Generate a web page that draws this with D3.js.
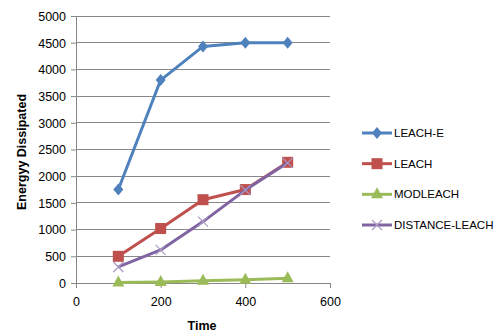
<!DOCTYPE html>
<html><head><meta charset="utf-8">
<script src="https://cdn.jsdelivr.net/npm/d3@7"></script>
<style>body{margin:0;background:#fff}svg{display:block}text{font-family:"Liberation Sans",Arial,sans-serif;fill:#000}</style>
</head><body><svg id="c" width="498" height="336"></svg>
<script>
const times = [100, 200, 300, 400, 500];
const leachE = [1750, 3800, 4430, 4500, 4500];
const leach = [500, 1020, 1560, 1750, 2260];
const modleach = [10, 20, 40, 60, 90];
const distanceLeach = [300, 620, 1150, 1740, 2250];
const seriesNames = ["LEACH-E", "LEACH", "MODLEACH", "DISTANCE-LEACH"];
const xTicks = [0, 200, 400, 600];
const yTicks = [0, 500, 1000, 1500, 2000, 2500, 3000, 3500, 4000, 4500, 5000];

const series = [
  {name: seriesNames[0], values: leachE, color: "#4F81BD", marker: "diamond"},
  {name: seriesNames[1], values: leach, color: "#C0504D", marker: "square"},
  {name: seriesNames[2], values: modleach, color: "#9BBB59", marker: "triangle"},
  {name: seriesNames[3], values: distanceLeach, color: "#8064A2", marker: "x"}
];

const svg = d3.select("#c");
const x = d3.scaleLinear().domain([0, 600]).range([76, 330]);
const y = d3.scaleLinear().domain([0, 5000]).range([283, 16]);

// gridlines
svg.append("g").selectAll("line").data(yTicks.filter(d => d > 0)).join("line")
  .attr("x1", 76).attr("x2", 330).attr("y1", d => y(d)).attr("y2", d => y(d))
  .attr("stroke", "#888").attr("stroke-width", 1).attr("shape-rendering", "crispEdges");

const yAxis = svg.append("g").attr("transform", "translate(76,0)")
  .call(d3.axisLeft(y).tickValues(yTicks).tickFormat(d3.format("d")).tickSize(5).tickPadding(5));
const xAxis = svg.append("g").attr("transform", "translate(0,283)")
  .call(d3.axisBottom(x).tickValues(xTicks).tickFormat(d3.format("d")).tickSize(5).tickPadding(9));
[yAxis, xAxis].forEach(a => {
  a.select(".domain").attr("stroke", "#888");
  a.selectAll(".tick line").attr("stroke", "#888");
  a.selectAll("text").attr("font-size", "12.5px").attr("fill", "#000")
    .style("font-family", '"Liberation Sans",Arial,sans-serif');
});
yAxis.selectAll("text").attr("dy", "0.35em");

function drawMarker(g, type, color, cx, cy) {
  if (type === "diamond") {
    g.append("path").attr("d", `M${cx},${cy-6}L${cx+5},${cy}L${cx},${cy+6}L${cx-5},${cy}Z`).attr("fill", color);
  } else if (type === "square") {
    g.append("rect").attr("x", cx-5.5).attr("y", cy-5.5).attr("width", 11).attr("height", 11).attr("fill", color);
  } else if (type === "triangle") {
    g.append("path").attr("d", `M${cx},${cy-7}L${cx+6},${cy+4}L${cx-6},${cy+4}Z`).attr("fill", color);
  } else {
    g.append("path").attr("d", `M${cx-5},${cy-5}L${cx+5},${cy+5}M${cx+5},${cy-5}L${cx-5},${cy+5}`)
      .attr("stroke", "#A99BC6").attr("stroke-width", 1.2).attr("fill", "none");
  }
}

const line = d3.line().x((d, i) => x(times[i])).y(d => y(d));
series.forEach(s => {
  const g = svg.append("g");
  g.append("path").attr("d", line(s.values)).attr("fill", "none")
    .attr("stroke", s.color).attr("stroke-width", 3).attr("stroke-linejoin", "round");
  s.values.forEach((v, i) => drawMarker(g, s.marker, s.color, x(times[i]), y(v)));
});

// legend
const ly = d3.scalePoint().domain(seriesNames).range([133, 225]);
series.forEach(s => {
  const g = svg.append("g");
  const yy = ly(s.name);
  g.append("line").attr("x1", 362).attr("x2", 392).attr("y1", yy).attr("y2", yy)
    .attr("stroke", s.color).attr("stroke-width", 3);
  drawMarker(g, s.marker, s.color, 377, yy);
  g.append("text").attr("x", 394).attr("y", yy).attr("dy", "0.35em")
    .attr("font-size", "11.5px").text(s.name);
});

svg.append("text").attr("x", 202).attr("y", 330).attr("text-anchor", "middle")
  .attr("font-size", "12.5px").attr("font-weight", "bold").text("Time");
svg.append("text").attr("transform", "translate(26,152) rotate(-90)").attr("text-anchor", "middle")
  .attr("font-size", "12.5px").attr("font-weight", "bold").text("Energyy Dissipated");
</script></body></html>
